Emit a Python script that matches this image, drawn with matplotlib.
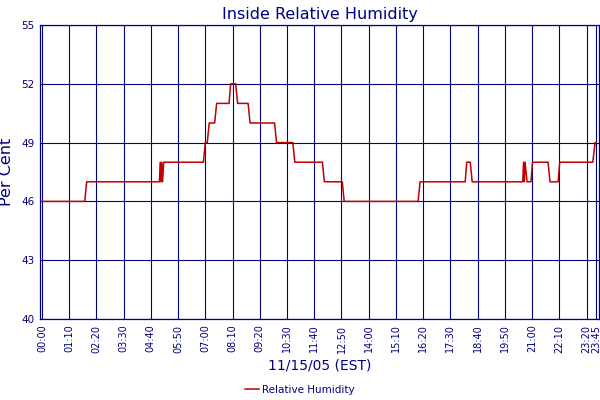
import numpy as np
import matplotlib
matplotlib.use("Agg")
import matplotlib.pyplot as plt

# Relative humidity change points (minutes after midnight, %)
minutes = [0, 110, 115, 302, 304, 306, 308, 310, 313, 415, 420, 425, 430, 444,
           449, 481, 485, 498, 503, 530, 535, 598, 603, 645, 650, 721, 726,
           772, 777, 967, 972, 1088, 1092, 1101, 1106, 1236, 1238, 1240, 1242,
           1247, 1257, 1261, 1301, 1306, 1327, 1331, 1416, 1422, 1425]
humidity = [46, 46, 47, 47, 48, 47, 48, 47, 48, 48, 49, 49, 50, 50,
            51, 51, 52, 52, 51, 51, 50, 50, 49, 49, 48, 48, 47,
            47, 46, 46, 47, 47, 48, 48, 47, 47, 48, 47, 48,
            47, 47, 48, 48, 47, 47, 48, 48, 49, 49]

tick_minutes = list(range(0, 1401, 70)) + [1425]
tick_labels = ["%02d:%02d" % (m // 60, m % 60) for m in tick_minutes]
y_ticks = [40, 43, 46, 49, 52, 55]

navy = "#000080"
red = "#C00000"

fig = plt.figure(figsize=(6, 4), dpi=100)
ax = fig.add_axes([40 / 600, 1 - 319 / 400, 559 / 600, 294 / 400])

ax.plot(minutes, humidity, color=red, linewidth=1.1, label="Relative Humidity", zorder=3)

ax.set_xlim(-5, 1432)
ax.set_ylim(40, 55)
ax.set_xticks(tick_minutes)
ax.set_xticklabels(tick_labels, rotation=90, fontsize=7, color=navy)
ax.set_yticks(y_ticks)
ax.set_yticklabels([str(v) for v in y_ticks], fontsize=7.5, color=navy)
ax.tick_params(length=0, pad=4)
ax.grid(True, color=navy, linewidth=0.8)
ax.set_axisbelow(True)
for s in ax.spines.values():
    s.set_color(navy)
    s.set_linewidth(0.9)

ax.set_title("Inside Relative Humidity", fontsize=11.5, color=navy, pad=4)
ax.set_ylabel("Per Cent", fontsize=11.5, color=navy, labelpad=5)
ax.set_xlabel("11/15/05 (EST)", fontsize=10, color=navy, labelpad=4)

leg = fig.legend(loc="center", bbox_to_anchor=(0.5, 1 - 390 / 400), frameon=False,
                 fontsize=7.5, handlelength=1.3, handletextpad=0.3)
for t in leg.get_texts():
    t.set_color(navy)

fig.savefig("out.png", dpi=100)
